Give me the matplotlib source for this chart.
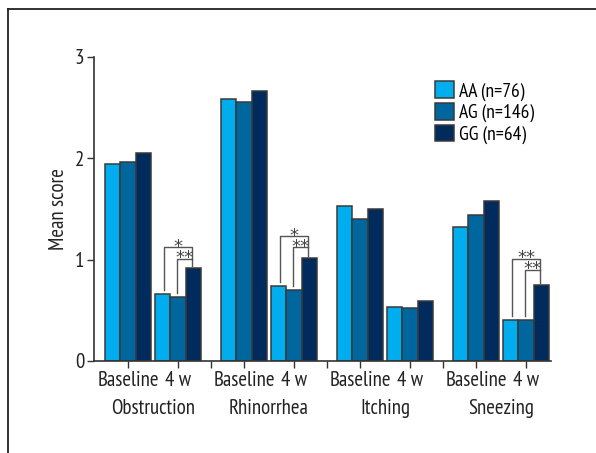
import matplotlib
matplotlib.use("Agg")
import matplotlib.pyplot as plt
from matplotlib.lines import Line2D
import numpy as np

plt.rcParams['font.family'] = ['PT Sans Narrow', 'DejaVu Sans']

categories = ["Obstruction", "Rhinorrhea", "Itching", "Sneezing"]
timepoints = ["Baseline", "4 w"]
genotypes = ["AA (n=76)", "AG (n=146)", "GG (n=64)"]
colors = ["#00aeef", "#00679e", "#002b5c"]

# mean score per category: [baseline, 4 w]
aa = [[1.94, 0.66], [2.58, 0.74], [1.53, 0.53], [1.32, 0.40]]
ag = [[1.96, 0.63], [2.55, 0.70], [1.40, 0.52], [1.44, 0.40]]
gg = [[2.05, 0.92], [2.66, 1.02], [1.50, 0.59], [1.58, 0.75]]

# significance at 4 w: (AA vs GG, AG vs GG) and bracket levels
sig_outer = ["*", "*", None, "**"]
sig_inner = ["**", "**", None, "**"]
outer_level = [1.12, 1.23, None, 1.01]
inner_level = [1.01, 1.12, None, 0.90]

fig = plt.figure(figsize=(5.96, 4.53), dpi=100)
ax = fig.add_axes([0.1577, 0.2031, 0.7668, 0.6717])

step = 2.32
width = 0.306
offsets = [-width, 0, width]
series = [aa, ag, gg]
edge = "#3a3a3a"

centers = []
for i in range(len(categories)):
    for j in range(len(timepoints)):
        centers.append(i * step + j)
centers = np.array(centers)

for k, data in enumerate(series):
    vals = np.array(data).flatten()
    ax.bar(centers + offsets[k], vals, width=width, color=colors[k],
           edgecolor=edge, linewidth=1.1, label=genotypes[k], zorder=2)

# significance brackets at 4 w
lc = "#555555"
for i in range(len(categories)):
    if sig_outer[i] is None:
        continue
    c = i * step + 1
    xa = c - width + 0.03
    xb = c - 0.02
    xg = c + width - 0.03
    ya = aa[i][1] + 0.04
    yb = ag[i][1] + 0.04
    yg = gg[i][1] + 0.02
    yo = outer_level[i]
    yi = inner_level[i]
    ax.plot([xa, xa, xg, xg], [ya, yo, yo, yg], color=lc, lw=1.0, zorder=3)
    ax.plot([xb, xb, xg], [yb, yi, yi], color=lc, lw=1.0, zorder=3)
    ax.text((xa + xg) / 2, yo - 0.045, sig_outer[i], ha="center", va="baseline",
            fontsize=13, color="#444444", family="DejaVu Sans")
    ax.text((xb + xg) / 2, yi - 0.045, sig_inner[i], ha="center", va="baseline",
            fontsize=13, color="#444444", family="DejaVu Sans")

ax.set_ylim(0, 3)
ax.set_yticks([0, 1, 2, 3])
ax.set_xlim(-0.68, 8.46)
ax.set_xticks(centers)
ax.set_xticklabels(timepoints * len(categories))
seps = [i * step + 1 + (step - 1) / 2 for i in range(len(categories) - 1)]
ax.set_xticks(seps, minor=True)

for s in ["top", "right"]:
    ax.spines[s].set_visible(False)
for s in ["left", "bottom"]:
    ax.spines[s].set_color("#333333")
    ax.spines[s].set_linewidth(1.2)
ax.tick_params(which="both", direction="out", length=5, width=1.0,
               color="#333333", labelsize=15, labelcolor="#222222", pad=2)

for i, cat in enumerate(categories):
    ax.text(i * step + 0.5, -0.155, cat, transform=ax.get_xaxis_transform(),
            ha="center", va="center", fontsize=15, color="#222222")

ax.set_ylabel("Mean score", fontsize=15, color="#222222", labelpad=5)

ax.legend(loc="upper left", bbox_to_anchor=(0.73, 0.945), frameon=False,
          fontsize=14, handlelength=0.95, handleheight=0.95,
          handletextpad=0.25, labelspacing=0.12, borderaxespad=0)

# figure frame
fig.add_artist(Line2D([8.3 / 596, 8.3 / 596], [0, 1 - 9.3 / 453],
                      color="#222222", lw=1.3, transform=fig.transFigure))
fig.add_artist(Line2D([8.3 / 596, 1], [1 - 9.3 / 453, 1 - 9.3 / 453],
                      color="#222222", lw=1.3, transform=fig.transFigure))

fig.savefig("out.png", dpi=100)
